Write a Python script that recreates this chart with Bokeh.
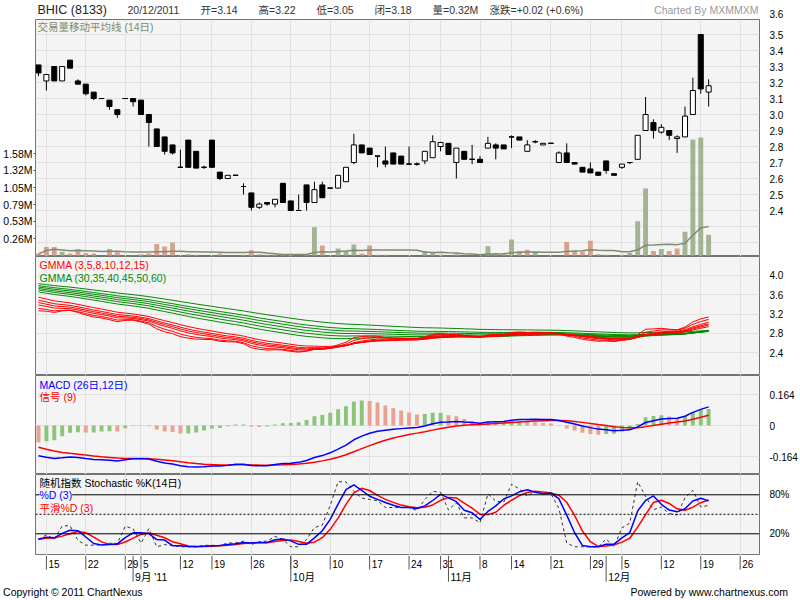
import numpy as np
from bokeh.plotting import figure
from bokeh.models import (Range1d, LinearAxis, FixedTicker, Label,
                          Span, Grid)
from bokeh.layouts import column
from bokeh.embed import file_html
from bokeh.resources import INLINE
from bokeh.core.properties import value

# ------------------------------------------------------------------ data
open_ = [3.31, 3.21, 3.30, 3.21, 3.34, 3.21, 3.19, 3.14, 3.10, 3.09,
         3.03, 3.10, 3.10, 3.09, 3.00, 2.91, 2.86, 2.81, 2.67, 2.84,
         2.77, 2.67, 2.84, 2.64, 2.60, 2.62, 2.55, 2.51, 2.42, 2.45,
         2.44, 2.57, 2.46, 2.40, 2.56, 2.45, 2.56, 2.54, 2.54, 2.58,
         2.70, 2.81, 2.79, 2.74, 2.71, 2.76, 2.74, 2.69, 2.69, 2.71,
         2.73, 2.80, 2.82, 2.70, 2.77, 2.72, 2.72, 2.79, 2.81, 2.81,
         2.86, 2.86, 2.77, 2.83, 2.81, 2.82, 2.70, 2.76, 2.70, 2.67,
         2.66, 2.64, 2.71, 2.63, 2.67, 2.70, 2.72, 2.90, 2.95, 2.89,
         2.90, 2.85, 2.86, 3.00, 3.50, 3.14]
high = [3.31, 3.25, 3.30, 3.30, 3.34, 3.22, 3.19, 3.14, 3.10, 3.09,
        3.03, 3.10, 3.10, 3.09, 3.00, 2.91, 2.86, 2.81, 2.78, 2.84,
        2.77, 2.68, 2.84, 2.64, 2.62, 2.62, 2.57, 2.51, 2.45, 2.45,
        2.47, 2.57, 2.46, 2.50, 2.56, 2.58, 2.58, 2.54, 2.62, 2.67,
        2.88, 2.81, 2.79, 2.74, 2.80, 2.76, 2.74, 2.80, 2.70, 2.77,
        2.87, 2.83, 2.82, 2.79, 2.77, 2.81, 2.74, 2.86, 2.82, 2.81,
        2.87, 2.86, 2.84, 2.84, 2.82, 2.82, 2.77, 2.82, 2.70, 2.67,
        2.70, 2.64, 2.71, 2.63, 2.69, 2.70, 2.87, 3.11, 2.97, 2.94,
        2.90, 2.87, 3.05, 3.23, 3.50, 3.22]
low = [3.24, 3.15, 3.21, 3.21, 3.29, 3.19, 3.12, 3.09, 3.10, 3.03,
       2.98, 3.10, 3.05, 3.00, 2.80, 2.80, 2.75, 2.75, 2.67, 2.67,
       2.665, 2.66, 2.67, 2.59, 2.60, 2.62, 2.50, 2.40, 2.41, 2.43,
       2.42, 2.45, 2.40, 2.40, 2.40, 2.45, 2.48, 2.54, 2.54, 2.58,
       2.69, 2.76, 2.75, 2.67, 2.67, 2.69, 2.69, 2.69, 2.68, 2.69,
       2.73, 2.77, 2.75, 2.60, 2.72, 2.69, 2.70, 2.79, 2.72, 2.785,
       2.79, 2.84, 2.77, 2.82, 2.81, 2.82, 2.70, 2.70, 2.69, 2.64,
       2.635, 2.62, 2.63, 2.62, 2.66, 2.69, 2.72, 2.90, 2.85, 2.88,
       2.84, 2.76, 2.86, 3.00, 3.13, 3.05]
close = [3.26, 3.25, 3.21, 3.30, 3.29, 3.19, 3.13, 3.10, 3.10, 3.05,
         3.00, 3.10, 3.08, 3.00, 2.95, 2.80, 2.77, 2.76, 2.67, 2.67,
         2.665, 2.67, 2.67, 2.60, 2.62, 2.62, 2.55, 2.42, 2.44, 2.44,
         2.47, 2.45, 2.40, 2.40, 2.45, 2.53, 2.48, 2.54, 2.62, 2.67,
         2.81, 2.76, 2.75, 2.74, 2.69, 2.69, 2.69, 2.69, 2.69, 2.77,
         2.83, 2.825, 2.75, 2.79, 2.72, 2.72, 2.70, 2.82, 2.79, 2.785,
         2.86, 2.84, 2.81, 2.83, 2.82, 2.82, 2.76, 2.70, 2.69, 2.64,
         2.635, 2.62, 2.65, 2.62, 2.69, 2.70, 2.87, 3.00, 2.90, 2.92,
         2.87, 2.86, 2.99, 3.15, 3.16, 3.18]
volume_m = [0.026, 0.13, 0.13, 0.06, 0.03, 0.10, 0.04, 0.03, 0.0, 0.10,
            0.07, 0.0, 0.005, 0.02, 0.03, 0.18, 0.14, 0.20, 0.0, 0.02,
            0.01, 0.0, 0.0, 0.03, 0.0, 0.0, 0.01, 0.08, 0.02, 0.01,
            0.01, 0.02, 0.01, 0.0, 0.02, 0.44, 0.155, 0.0, 0.11, 0.07,
            0.17, 0.03, 0.155, 0.01, 0.01, 0.0, 0.0, 0.0, 0.0, 0.07,
            0.05, 0.01, 0.0, 0.02, 0.0, 0.0, 0.0, 0.145, 0.04, 0.03,
            0.25, 0.07, 0.09, 0.06, 0.0, 0.0, 0.0, 0.21, 0.07, 0.06,
            0.23, 0.02, 0.01, 0.0, 0.01, 0.04, 0.53, 1.04, 0.07, 0.10,
            0.07, 0.11, 0.37, 1.80, 1.83, 0.32]

# highs / lows of the 13 sessions before the first candle (for %K window)
pre_high = [3.72, 3.70, 3.66, 3.62, 3.58, 3.55, 3.52, 3.48, 3.44, 3.40, 3.38, 3.36, 3.34]
pre_low = [3.55, 3.52, 3.48, 3.44, 3.40, 3.38, 3.35, 3.32, 3.30, 3.28, 3.25, 3.22, 3.20]

# indicator values on the first session
gmma_short_periods = [3, 5, 8, 10, 12, 15]
gmma_short_start = [3.27, 3.32, 3.39, 3.44, 3.49, 3.55]
gmma_long_periods = [30, 35, 40, 45, 50, 60]
gmma_long_start = [3.66, 3.70, 3.73, 3.76, 3.79, 3.83]
ema12_start, ema26_start, signal_start = 3.49, 3.65, -0.115

# axis ticks / labels
week_idx = [1, 6, 11, 13, 18, 22, 27, 32, 37, 42, 47, 51, 56, 60, 65, 70, 74, 79, 84, 89]
week_lbl = ["15", "22", "29", "5", "12", "19", "26", "3", "10", "17", "24", "31",
            "8", "14", "21", "29", "5", "12", "19", "26"]
month_idx = [12, 32, 52, 72]
month_lbl = ["9月 '11", "10月", "11月", "12月"]
price_ticks = [2.4, 2.5, 2.6, 2.7, 2.8, 2.9, 3.0, 3.1, 3.2, 3.3, 3.4, 3.5]
price_grid = [2.2, 2.3, 2.4, 2.5, 2.6, 2.7, 2.8, 2.9, 3.0, 3.1, 3.2, 3.3, 3.4, 3.5]
price_top_label = "3.6"   # top price label, sits on the frame's upper edge
vol_ticks = [0.26, 0.53, 0.79, 1.05, 1.32, 1.58]
vol_lbl = ["0.26M", "0.53M", "0.79M", "1.05M", "1.32M", "1.58M"]
gmma_ticks = [2.4, 2.8, 3.2, 3.6, 4.0]
macd_ticks = [-0.164, 0.0, 0.164]
stoch_ticks = [20, 80]

# header texts and their left offsets (px from the plot frame's left edge)
header_items = [("20/12/2011", 92), ("开=3.14", 165), ("高=3.22", 223), ("低=3.05", 281),
                ("闭=3.18", 339), ("量=0.32M", 397), ("涨跌=+0.02 (+0.6%)", 454)]

# ------------------------------------------------------------------ indicators
n = len(close)
idx = list(range(n))


def ema(vals, start, period):
    a = 2.0 / (period + 1)
    out = [start]
    for v in vals[1:]:
        out.append(out[-1] + a * (v - out[-1]))
    return out


def sma_partial(vals, w):
    out = []
    for i in range(len(vals)):
        seg = vals[max(0, i - w + 1): i + 1]
        out.append(sum(seg) / len(seg))
    return out


gmma_short = [ema(close, s, p) for s, p in zip(gmma_short_start, gmma_short_periods)]
gmma_long = [ema(close, s, p) for s, p in zip(gmma_long_start, gmma_long_periods)]
ema12 = ema(close, ema12_start, 12)
ema26 = ema(close, ema26_start, 26)
macd = [a - b for a, b in zip(ema12, ema26)]
signal = ema(macd, signal_start, 9)
hist = [2 * (m - s) for m, s in zip(macd, signal)]
hist_col = []
for i in range(n):
    if i > 0 and hist[i] >= hist[i - 1]:
        hist_col.append("#8cc47c")
    else:
        hist_col.append("#e8a292")

all_high = pre_high + high
all_low = pre_low + low
stoch_k = []
for i in range(n):
    hh = max(all_high[i:i + 14])
    ll = min(all_low[i:i + 14])
    stoch_k.append(100.0 * (close[i] - ll) / (hh - ll) if hh > ll else 50.0)
stoch_d = sma_partial(stoch_k, 3)
stoch_sd = sma_partial(stoch_d, 3)

vol_ma = sma_partial(volume_m, 14)
vol_col = []
for i in range(n):
    prev = close[i - 1] if i > 0 else open_[i]
    vol_col.append("#a3b394" if close[i] >= prev else "#d6a290")

# ------------------------------------------------------------------ styling helpers
FONT = "Liberation Sans, Noto Sans CJK SC, sans-serif"
W = 800
BL, BR = 35, 38
BG = "#f4f4f4"
GRID = "#e1e1e1"
FRAME = "#6f7771"

XR = Range1d(-0.38, 91.45)
ppd = (W - BL - BR) / (XR.end - XR.start)


def style_right_axis(ax):
    ax.axis_line_color = None
    ax.major_tick_line_color = None
    ax.minor_tick_line_color = None
    ax.major_label_standoff = 4
    ax.major_label_text_font = FONT
    ax.major_label_text_font_size = "10px"
    ax.major_label_text_color = "black"


def base_fig(height, yr, bottom=0):
    p = figure(width=W, height=height, x_range=XR, y_range=yr,
               output_backend="svg", toolbar_location=None,
               min_border_left=BL, min_border_right=BR,
               min_border_top=0, min_border_bottom=bottom,
               x_axis_location=None, y_axis_location="right")
    p.border_fill_color = "white"
    p.xgrid.visible = False
    p.ygrid.visible = False
    return p


def make_fig(height, yr):
    p = base_fig(height, yr)
    p.background_fill_color = BG
    p.outline_line_color = FRAME
    p.outline_line_width = 1
    p.add_layout(Grid(dimension=0, ticker=FixedTicker(ticks=week_idx),
                      grid_line_color=GRID, grid_line_width=1))
    style_right_axis(p.yaxis[0])
    return p


def make_strip(height, yr, bottom=0):
    p = base_fig(height, yr, bottom)
    p.yaxis.visible = False
    p.background_fill_color = "white"
    p.outline_line_color = None
    return p


def add_hgrid(p, ticks):
    p.add_layout(Grid(dimension=1, ticker=FixedTicker(ticks=ticks),
                      grid_line_color=GRID, grid_line_width=1))


def txt(p, x, y, text, xo, yo, color, size="10.5px", align="left",
        baseline="middle", bg=None):
    lab = Label(x=x, y=y, text=text, x_offset=xo, y_offset=yo,
                text_color=color, text_font=FONT, text_font_size=size,
                text_align=align, text_baseline=baseline)
    if bg is not None:
        lab.background_fill_color = bg
    p.add_layout(lab)


# ------------------------------------------------------------------ header strip
HEAD = 19
ph = make_strip(HEAD, Range1d(0, HEAD))
txt(ph, XR.start, HEAD / 2, "BHIC (8133)", 2, 0, "#222222", size="12.5px")
for t, xo in header_items:
    txt(ph, XR.start, HEAD / 2, t, xo, 0, "#333333")
txt(ph, XR.end, HEAD / 2, "Charted By MXMMXM", -1, 0, "#9a9a9a", align="right")
# the "3.6" price label lies on the boundary between header and price panel
ph.yaxis.visible = True
style_right_axis(ph.yaxis[0])
ph.yaxis[0].ticker = FixedTicker(ticks=[6.0])
ph.yaxis[0].major_label_overrides = {6.0: price_top_label}

# ------------------------------------------------------------------ main panel
main_y = Range1d(2.1125, 3.594)
pm = make_fig(237, main_y)
pm.extra_y_ranges = {"vol": Range1d(-0.0155, 3.66)}
add_hgrid(pm, price_grid)
pm.yaxis[0].ticker = FixedTicker(ticks=price_ticks)
pm.yaxis[0].major_label_overrides = {t: "%.1f" % t for t in price_ticks}

vax = LinearAxis(y_range_name="vol", ticker=FixedTicker(ticks=vol_ticks))
vax.major_label_overrides = dict(zip(vol_ticks, vol_lbl))
vax.axis_line_color = None
vax.major_tick_line_color = "#555555"
vax.major_tick_out = 2
vax.major_tick_in = 0
vax.minor_tick_line_color = None
vax.major_label_standoff = 1
vax.major_label_text_font = FONT
vax.major_label_text_font_size = "10.5px"
vax.major_label_text_color = "black"
pm.add_layout(vax, "left")

pm.vbar(x=idx, width=0.62, top=volume_m, bottom=0, y_range_name="vol",
        fill_color=vol_col, line_color=None)
pm.line(idx, vol_ma, y_range_name="vol", line_color="#7d8c6e", line_width=1.5)

body_top = [max(o, c) for o, c in zip(open_, close)]
body_bot = [min(o, c) for o, c in zip(open_, close)]
body_fill = ["white" if c > o else "black" for o, c in zip(open_, close)]
pm.segment(x0=idx, y0=low, x1=idx, y1=high, line_color="black", line_width=1)
pm.vbar(x=idx, width=0.64, top=body_top, bottom=body_bot,
        fill_color=body_fill, line_color="black", line_width=1)
doji = [i for i in idx if open_[i] == close[i]]
pm.segment(x0=[i - 0.32 for i in doji], y0=[close[i] for i in doji],
           x1=[i + 0.32 for i in doji], y1=[close[i] for i in doji],
           line_color="black", line_width=1)

txt(pm, XR.start, main_y.end, "交易量移动平均线 (14日)", 2, -7, "#7b8a6b")

# ------------------------------------------------------------------ GMMA panel
gmma_y = Range1d(1.93, 4.393)
pg = make_fig(119, gmma_y)
add_hgrid(pg, gmma_ticks)
pg.yaxis[0].ticker = FixedTicker(ticks=gmma_ticks)
pg.yaxis[0].major_label_overrides = {t: "%.1f" % t for t in gmma_ticks}
for s in gmma_long:
    pg.line(idx, s, line_color="#008a00", line_width=1)
for s in gmma_short:
    pg.line(idx, s, line_color="#ff0000", line_width=1)
txt(pg, XR.start, gmma_y.end, "GMMA (3,5,8,10,12,15)", 4, -8, "#ff0000")
txt(pg, XR.start, gmma_y.end, "GMMA (30,35,40,45,50,60)", 4, -21, "#008a00")

# ------------------------------------------------------------------ MACD panel
macd_y = Range1d(-0.259, 0.2646)
pd_ = make_fig(99, macd_y)
add_hgrid(pd_, macd_ticks)
pd_.yaxis[0].ticker = FixedTicker(ticks=macd_ticks)
pd_.yaxis[0].major_label_overrides = {-0.164: "-0.164", 0.0: "0", 0.164: "0.164"}
pd_.vbar(x=idx, width=0.5, top=hist, bottom=0, fill_color=hist_col, line_color=None)
pd_.line(idx, signal, line_color="#ff0000", line_width=1.5)
pd_.line(idx, macd, line_color="#0000ff", line_width=1.5)
txt(pd_, XR.start, macd_y.end, "MACD (26日,12日)", 4, -9, "#0000ff")
txt(pd_, XR.start, macd_y.end, "信号 (9)", 4, -21, "#ff0000")

# ------------------------------------------------------------------ Stochastic panel
stoch_y = Range1d(-13.4, 111.2)
ps = make_fig(81, stoch_y)
ps.yaxis[0].ticker = FixedTicker(ticks=stoch_ticks)
ps.yaxis[0].major_label_overrides = {20: "20%", 80: "80%"}
ps.add_layout(Span(location=80, dimension="width", line_color="black", line_width=1))
ps.add_layout(Span(location=20, dimension="width", line_color="black", line_width=1))
ps.add_layout(Span(location=50, dimension="width", line_color="black", line_width=1,
                   line_dash="2 2"))
ps.line(idx, stoch_k, line_color="#333333", line_width=1, line_dash="3 3")
ps.line(idx, stoch_sd, line_color="#ff0000", line_width=1.5)
ps.line(idx, stoch_d, line_color="#0000ff", line_width=1.5)
txt(ps, XR.start, stoch_y.end, "随机指数 Stochastic %K(14日)", 4, -8, "black")
txt(ps, XR.start, stoch_y.end, "%D (3)", 4, -20, "#0000ff", bg=BG)
txt(ps, XR.start, stoch_y.end, "平滑%D (3)", 4, -33, "#ff0000")

# ------------------------------------------------------------------ footer strip (date axis)
pf = make_strip(45, Range1d(14, 45), bottom=14)
pf.segment(x0=week_idx, y0=[45] * len(week_idx), x1=week_idx, y1=[30] * len(week_idx),
           line_color="#555555", line_width=1)
pf.segment(x0=month_idx, y0=[45] * len(month_idx), x1=month_idx, y1=[17] * len(month_idx),
           line_color="#555555", line_width=1)
pf.text(x=week_idx, y=[36] * len(week_idx), text=week_lbl, x_offset=2,
        text_align="left", text_baseline="middle", text_font=value(FONT),
        text_font_size="10px", text_color="black")
pf.text(x=month_idx, y=[22] * len(month_idx), text=month_lbl, x_offset=2,
        text_align="left", text_baseline="middle", text_font=value(FONT),
        text_font_size="10.5px", text_color="black")

# credit line: labels of an axis below the strip, centred on these index positions
credit_pos = [round(XR.start + (72.5 - BL) / ppd, 4), round(XR.start + (711.5 - BL) / ppd, 4)]
credit_txt = ["Copyright © 2011 ChartNexus", "Powered by www.chartnexus.com"]
cax = LinearAxis(ticker=FixedTicker(ticks=credit_pos))
cax.major_label_overrides = dict(zip(credit_pos, credit_txt))
cax.axis_line_color = None
cax.major_tick_line_color = None
cax.minor_tick_line_color = None
cax.major_tick_out = 0
cax.major_tick_in = 0
cax.major_label_standoff = 1
cax.major_label_text_font = FONT
cax.major_label_text_font_size = "10.5px"
cax.major_label_text_color = "black"
pf.add_layout(cax, "below")

layout = column(ph, pm, pg, pd_, ps, pf, spacing=0)
open("out.html", "w").write(file_html(layout, INLINE))
